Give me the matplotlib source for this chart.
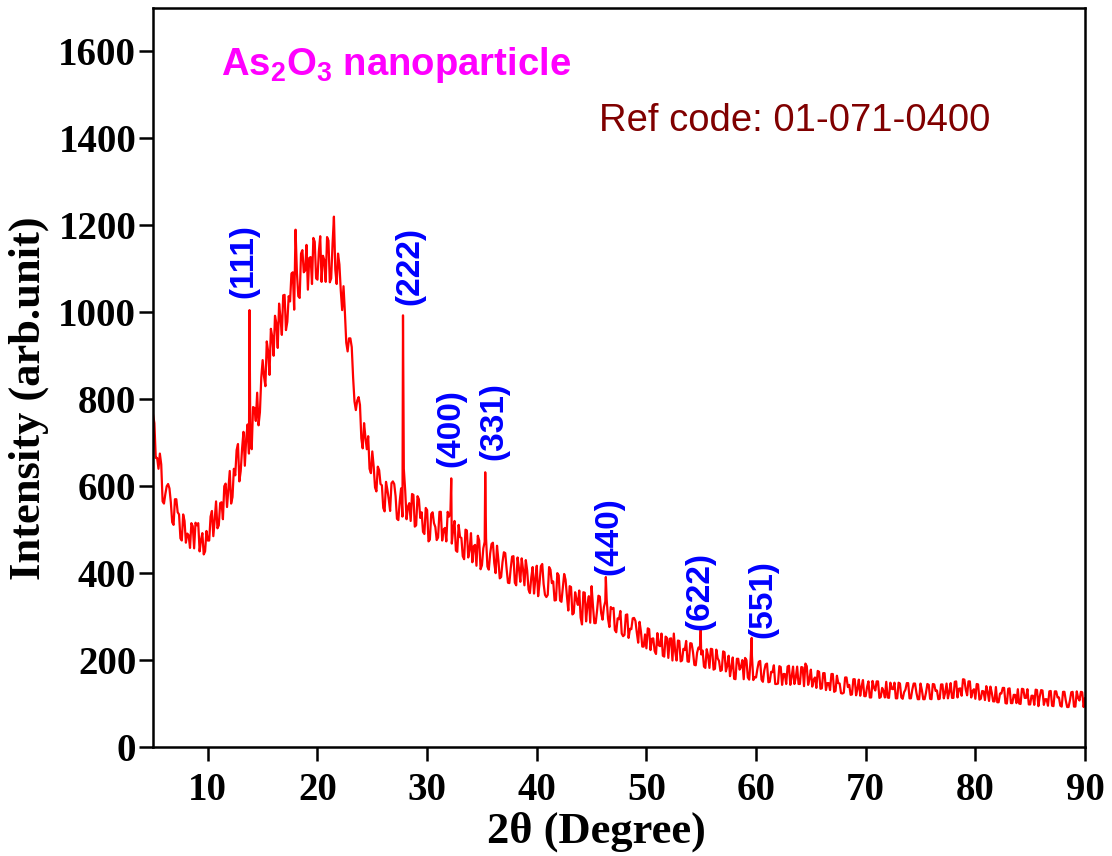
import numpy as np
import matplotlib
matplotlib.use('Agg')
import matplotlib.pyplot as plt

plt.rcParams['mathtext.fontset'] = 'custom'
plt.rcParams['mathtext.rm'] = 'Liberation Sans:bold'
plt.rcParams['mathtext.it'] = 'Liberation Sans:bold'
plt.rcParams['mathtext.bf'] = 'Liberation Sans:bold'

# scan: 5 to 90 deg, 0.25 deg step
scan_start, scan_step = 5.0, 0.25
intensity = [
    765, 665, 640, 650,  560, 600, 595, 517,   # 5, 6
    570, 540, 480, 535,  470, 487, 515, 457,   # 7, 8
    510, 450, 492, 450,  475, 530, 485, 565,   # 9, 10
    510, 563, 600, 552,  635, 575, 625, 697,   # 11, 12
    635, 725, 710, 675,  685, 780, 815, 770,   # 13, 14
    890, 830, 910, 962,  900, 975, 1020, 948,  # 15, 16
    1040, 978, 1025, 1092,  1190, 1037, 1135, 1092,  # 17, 18
    1155, 1125, 1065, 1162,  1075, 1175, 1130, 1070,  # 19, 20
    1165, 1078, 1220, 1065,  1110, 1005, 1000, 910,  # 21, 22
    940, 850, 775, 805,  710, 745, 685, 640,   # 23, 24
    680, 597, 645, 605,  550, 610, 570, 607,   # 25, 26
    605, 525, 565, 530,  590, 553, 520, 580,   # 27, 28
    510, 570, 540, 490,  545, 477, 540, 506,   # 29, 30
    482, 541, 500, 473,  530, 468, 520, 449,   # 31, 32
    483, 439, 500, 436,  492, 462, 417, 475,   # 33, 34
    418, 472, 415, 445,  470, 400, 430, 391,   # 35, 36
    448, 410, 377, 438,  378, 436, 380, 408,   # 37, 38
    430, 362, 390, 353,  417, 376, 421, 350,   # 39, 40
    350, 408, 381, 338,  395, 334, 398, 347,   # 41, 42
    370, 305, 356, 327,  298, 356, 289, 347,   # 43, 44
    370, 285, 314, 346,  293, 335, 295, 322,   # 45, 46
    320, 264, 294, 261,  258, 305, 272, 296,   # 47, 48
    290, 240, 266, 231,  227, 271, 249, 221,   # 49, 50
    262, 232, 210, 254,  205, 250, 261, 199,   # 51, 52
    244, 199, 223, 197,  239, 218, 188, 229,   # 53, 54
    213, 185, 225, 182,  225, 180, 204, 175,   # 55, 56
    220, 174, 210, 183,  157, 203, 178, 200,   # 57, 58
    205, 160, 200, 154,  160, 196, 155, 176,   # 59, 60
    192, 150, 172, 145,  146, 184, 168, 145,   # 61, 62
    187, 162, 145, 185,  145, 183, 192, 143,   # 63, 64
    178, 155, 136, 173,  135, 170, 147, 131,   # 65, 66
    168, 129, 147, 124,  125, 160, 143, 121,   # 67, 68
    156, 134, 118, 154,  117, 151, 114, 137,   # 69, 70
    151, 113, 136, 114,  114, 148, 133, 112,   # 71, 72
    148, 114, 126, 147,  112, 132, 146, 110,   # 73, 74
    146, 110, 125, 143,  110, 144, 130, 111,   # 75, 76
    144, 125, 112, 147,  113, 151, 134, 118,   # 77, 78
    155, 119, 151, 129,  111, 144, 111, 128,   # 79, 80
    140, 106, 125, 105,  103, 123, 136, 101,   # 81, 82
    134, 101, 120, 101,  100, 134, 113, 133,   # 83, 84
    98, 118, 132, 94,  131, 97, 110, 128,      # 85, 86
    95, 128, 114, 95,  127, 107, 92, 126,      # 87, 88
    93, 128, 107, 126,  112,                   # 89, 90
]

# in-between readings at 5.125, 5.375, ... 89.875
intensity_mid = [
    745, 665, 675, 565,  582, 605, 563, 511,   # 5, 6
    570, 535, 475, 520,  491, 458, 508, 516,   # 7, 8
    515, 476, 443, 497,  475, 543, 522, 503,   # 9, 10
    561, 524, 606, 593,  560, 640, 683, 611,   # 11, 12
    687, 647, 742, 717,  782, 750, 740, 850,   # 13, 14
    852, 933, 856, 944,  992, 918, 987, 1039,  # 15, 16
    959, 1037, 1089, 1006,  1091, 1033, 1143, 1096,  # 17, 18
    1052, 1127, 1171, 1078,  1140, 1070, 1120, 1173,  # 19, 20
    1069, 1157, 1098, 1135,  1050, 1060, 930, 940,  # 21, 22
    920, 795, 797, 787,  687, 712, 715, 630,   # 23, 24
    646, 588, 637, 602,  542, 592, 543, 611,   # 25, 26
    577, 522, 595, 640,  524, 561, 582, 507,   # 27, 28
    577, 527, 495, 550,  473, 536, 515, 476,   # 29, 30
    541, 475, 504, 541,  540, 500, 452, 511,   # 31, 32
    481, 432, 498, 454,  425, 465, 486, 409,   # 33, 34
    457, 480, 408, 467,  423, 463, 388, 425,   # 35, 36
    446, 378, 411, 439,  372, 411, 434, 372,   # 37, 38
    406, 354, 414, 387,  347, 416, 375, 345,   # 39, 40
    414, 377, 337, 400,  337, 366, 385, 314,   # 41, 42
    368, 308, 339, 360,  282, 355, 328, 286,   # 43, 44
    325, 285, 348, 308,  322, 340, 276, 318,   # 45, 46
    269, 296, 313, 255,  304, 251, 271, 297,   # 47, 48
    263, 288, 231, 259,  273, 223, 250, 214,   # 49, 50
    234, 261, 208, 251,  249, 199, 220, 245,   # 51, 52
    197, 226, 244, 196,  238, 189, 217, 225,   # 53, 54
    222, 182, 210, 226,  178, 224, 198, 177,   # 55, 56
    218, 187, 163, 206,  156, 203, 184, 156,   # 57, 58
    200, 155, 210, 161,  180, 198, 150, 190,   # 59, 60
    149, 173, 188, 145,  186, 143, 168, 185,   # 61, 62
    143, 185, 160, 145,  184, 140, 186, 157,   # 63, 64
    139, 160, 175, 134,  170, 131, 147, 168,   # 65, 66
    127, 164, 146, 123,  160, 138, 120, 156,   # 67, 68
    119, 155, 139, 117,  138, 114, 152, 130,   # 69, 70
    151, 115, 129, 150,  113, 134, 148, 112,   # 71, 72
    146, 111, 132, 147,  112, 146, 125, 110,   # 73, 74
    131, 110, 145, 111,  145, 129, 110, 144,   # 75, 76
    112, 146, 127, 113,  150, 114, 135, 156,   # 77, 78
    132, 151, 114, 133,  145, 109, 129, 108,   # 79, 80
    127, 139, 105, 138,  103, 123, 136, 100,   # 81, 82
    135, 101, 120, 133,  99, 133, 113, 98,     # 83, 84
    118, 97, 131, 116,  130, 110, 95, 129,     # 85, 86
    94, 128, 114, 93,  127, 92, 107, 127,      # 87, 88
    93, 113, 127, 92,                          # 89
]

# sharp reflections
peak_2theta = [13.8, 27.8, 32.2, 35.3, 46.3, 54.95, 59.6]
peak_intensity = [1005, 993, 618, 632, 391, 269, 251]
peak_labels = ['(111)', '(222)', '(400)', '(331)', '(440)', '(622)', '(551)']
label_x = [13.3, 28.4, 32.2, 36.1, 46.6, 54.9, 60.6]
label_y = [1034, 1016, 644, 660, 395, 269, 250]

two_theta = scan_start + scan_step * np.arange(len(intensity))
two_theta_mid = scan_start + scan_step / 2 + scan_step * np.arange(len(intensity_mid))
x = np.concatenate([two_theta, two_theta_mid, peak_2theta])
y = np.concatenate([intensity, intensity_mid, peak_intensity])
order = np.argsort(x)
x, y = x[order], y[order]

fig = plt.figure(figsize=(11.12, 8.56), dpi=100)
ax = fig.add_axes([0.1376, 0.1273, 0.8381, 0.8634])

ax.plot(x, y, color='red', linewidth=1.6)

for lx, ly, lab in zip(label_x, label_y, peak_labels):
    ax.text(lx, ly, lab, rotation=90, ha='center', va='bottom',
            color='blue', fontsize=24, fontweight='bold', family='Liberation Sans')

ax.text(11.2, 1568, r'As$_{2}$O$_{3}$ nanoparticle', color='magenta',
        fontsize=27.5, fontweight='bold', family='Liberation Sans', va='center')
ax.text(45.7, 1441, 'Ref code: 01-071-0400', color='#800000',
        fontsize=27.5, family='Liberation Sans', va='center')

ax.set_xlim(5, 90)
ax.set_ylim(0, 1700)
ax.set_xticks(np.arange(10, 91, 10))
ax.set_yticks(np.arange(0, 1601, 200))

for s in ax.spines.values():
    s.set_linewidth(1.8)
ax.tick_params(direction='out', length=10, width=1.8)
ax.tick_params(axis='x', pad=8)
ax.tick_params(axis='y', pad=2)
for lab in ax.get_xticklabels() + ax.get_yticklabels():
    lab.set_fontfamily('Liberation Serif')
    lab.set_fontweight('bold')
    lab.set_fontsize(28)

ax.set_xlabel('2θ (Degree)', fontsize=32, fontweight='bold', family='Liberation Serif')
ax.set_ylabel('Intensity (arb.unit)', fontsize=32, fontweight='bold', family='Liberation Serif')
ax.xaxis.set_label_coords(0.476, -0.087)
ax.yaxis.set_label_coords(-0.112, 0.472)

fig.savefig('out.png', dpi=100)
